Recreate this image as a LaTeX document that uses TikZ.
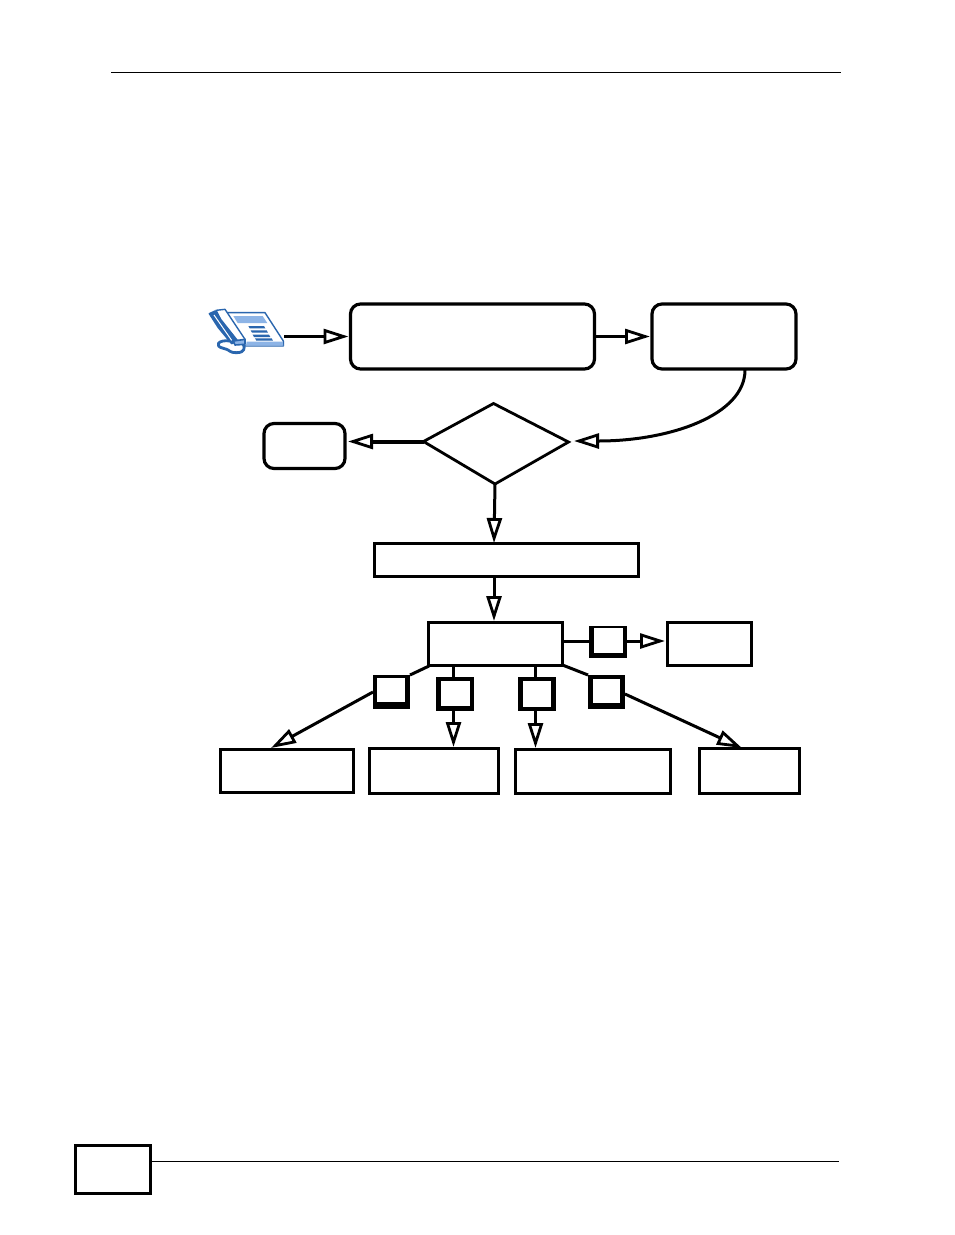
\documentclass[tikz,border=0pt]{standalone}
\usetikzlibrary{arrows.meta}
\definecolor{phoneblue}{HTML}{2A66AE}
\definecolor{phonelight}{HTML}{8DB4E6}
\begin{document}
\begin{tikzpicture}[x=1pt,y=-1pt,
  line join=miter,
  flow/.style={draw=black,line width=3pt,-{Triangle[open,length=25pt,width=15pt,line width=2.8pt,sep=0pt]}},
  plain/.style={draw=black,line width=3pt},
  box/.style={draw=black,line width=3pt,fill=white,minimum width=#1,inner sep=0pt,outer sep=0pt},
  rbox/.style={box=#1,line width=3.2pt,rounded corners=10pt},
  sbox/.style={fill=black,inner sep=0pt,outer sep=0pt,minimum width=37pt,minimum height=34pt},
  inner/.style={fill=white},
  rule/.style={draw=black,line width=1pt}]
\useasboundingbox (0,0) rectangle (954,1235);
\fill[white] (0,0) rectangle (954,1235);
% page furniture
\coordinate (hl) at (111,72); \coordinate (hr) at (841,72);
\draw[rule] (hl) -- (hr);
\node[draw=black,line width=2.4pt,minimum width=75pt,minimum height=48pt,inner sep=0pt,outer sep=0pt] (pg) at (113,1169.5) {};
\coordinate (fr) at (839,1161.5);
\draw[rule] (pg.east |- fr) -- (fr);
% phone
\begin{scope}[shift={(190,291)},x=0.3333pt,y=-0.3333pt,line join=round]
  \draw[phoneblue,line width=1.4pt,fill=white] (110,65) -- (225,65) -- (280,150) -- (280,165) -- (165,165) -- (130,110) -- cycle;
  \fill[phonelight] (130,75) -- (218,75) -- (232,96) -- (143,96) -- cycle;
  \fill[phonelight] (170,152) -- (278,152) -- (280,164) -- (168,164) -- cycle;
  \foreach \yy/\xa/\xb in {105/175/222,118/182/230,131/188/237,142/195/245}
    \fill[phoneblue] (\xa,\yy) -- (\xb,\yy) -- (\xb+4,\yy+7) -- (\xa+4,\yy+7) -- cycle;
  \draw[phoneblue,line width=1.4pt,fill=phoneblue] (58,68) -- (75,60) -- (95,85) -- (145,150) -- (125,158) -- (85,110) -- cycle;
  \draw[white,line width=1pt] (72,72) -- (125,148);
  \draw[phoneblue,line width=1.4pt,fill=white] (78,58) -- (105,55) -- (165,145) -- (145,152) -- (92,85) -- cycle;
  \draw[phoneblue,line width=1.6pt,fill=phonelight] (130,150) -- (165,145) -- (165,160) -- (135,162) -- cycle;
  \draw[phoneblue,line width=2.8pt] (120,150) .. controls (85,145) and (70,165) .. (100,172) .. controls (125,178) and (115,185) .. (140,185) .. controls (165,185) and (165,170) .. (160,160);
\end{scope}
\coordinate (ph) at (284,336.5);
% upper boxes
\node[rbox=244pt,minimum height=65pt] (b1) at (472.5,336.5) {};
\node[rbox=144pt,minimum height=65pt] (b2) at (724,336.5) {};
\node[rbox=81pt,minimum height=45pt] (end) at (304.5,446) {};
\coordinate (dl) at (423.5,441.5); \coordinate (dt) at (493.5,403.5); \coordinate (dr) at (568.5,442); \coordinate (db) at (495,484);
\coordinate (drt) at (574,441);
\draw[line width=2.8pt,fill=white] (dl) -- (dt) -- (dr) -- (db) -- cycle;
\node[box=264pt,minimum height=33pt] (b3) at (506.5,560) {};
\node[box=134pt,minimum height=43pt] (b4) at (495.5,643.5) {};
\node[box=84pt,minimum height=43pt] (b5) at (709.5,643.5) {};
\node[box=133pt,minimum height=43pt] (c1) at (287,771) {};
\node[box=129pt,minimum height=45pt] (c2) at (434,771) {};
\node[box=155pt,minimum height=44pt] (c3) at (593,771.5) {};
\node[box=100pt,minimum height=45pt] (c4) at (749.5,771) {};
\coordinate (b2s) at (745,370);
\coordinate (b3a) at (494,543);
\coordinate (b3b) at (494,577);
\coordinate (b4t) at (494,621);
\coordinate (k1a) at (627,641);
\coordinate (b5a) at (665,641);
\coordinate (b4e) at (563,641);
\coordinate (k1w) at (590,641);
\coordinate (c1t) at (271,748);
\coordinate (c2t) at (453.5,747);
\coordinate (c3t) at (535.5,748);
\coordinate (c4t) at (742,748);
\coordinate (endt) at (348,441.5);
% connectors
\draw[flow] (ph) -- ([xshift=-2pt]b1.west);
\draw[flow] (b1.east) -- ([xshift=-2pt]b2.west);
\draw[flow] (b2s) .. controls (745,415) and (670,441) .. (drt);
\draw[flow,line width=4pt] (dl) -- (endt);
\draw[flow] (db) -- (b3a);
\draw[flow] (b3b) -- (b4t);
% keys
\node[sbox,minimum width=38pt,minimum height=32pt] (k1) at (608,642) {};
\node[sbox] (k2) at (391.5,692) {};
\node[sbox,minimum width=38pt] (k3) at (455,693.5) {};
\node[sbox,minimum width=38pt] (k4) at (537,694) {};
\node[sbox] (k5) at (606.5,692) {};
\draw[plain] (b4e) -- (k1w);
\draw[plain] (429,666) -- (k2.north east);
\draw[plain] (453.5,665) -- (453.5,677);
\draw[plain] (535.5,665) -- (535.5,677);
\draw[plain] (b4.south east) -- (k5.north west);
\draw[flow] (k1a) -- (b5a);
\draw[flow] (k2.west) -- (c1t);
\draw[flow] (453.5,710) -- (c2t);
\draw[flow] (535.5,711) -- (c3t);
\draw[flow] (625,694) -- (c4t);
\fill[inner] (594,628) rectangle (623,653);
\fill[inner] (377,678) rectangle (405,702);
\fill[inner] (441,681) rectangle (470,706);
\fill[inner] (523,681) rectangle (551,707);
\fill[inner] (593,679) rectangle (620,703);
\end{tikzpicture}
\end{document}
